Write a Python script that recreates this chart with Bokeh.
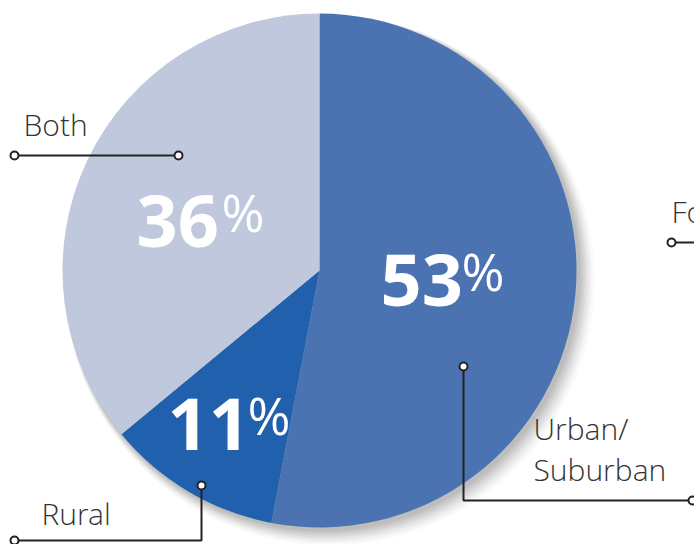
import math
from bokeh.plotting import figure
from bokeh.models import Range1d
from bokeh.core.properties import value
from bokeh.embed import file_html
from bokeh.resources import INLINE

# ---- data ----
categories = ["Urban/Suburban", "Rural", "Both"]
values = [53, 11, 36]
colors = ["#4b73b2", "#2160ad", "#bfc8dd"]

# ---- layout (reference pixel coordinates) ----
W, H = 694, 544
def Y(y):
    return 544 - y

cx, cy, R = 319, 270, 257

p = figure(width=W, height=H, output_backend="svg", toolbar_location=None,
           x_range=Range1d(0, W), y_range=Range1d(0, H),
           min_border=0)
p.axis.visible = False
p.grid.visible = False
p.outline_line_color = None
p.background_fill_color = "white"
p.border_fill_color = "white"

# soft shadow
for i, a in enumerate([0.05, 0.05, 0.04, 0.04, 0.03, 0.03, 0.02, 0.02]):
    p.circle(x=[cx + 3 + i], y=[Y(cy) - 3 - i], radius=R + 1 + i,
             fill_color="#000000", fill_alpha=a, line_color=None)

# wedges, clockwise from 12 o'clock
total = sum(values)
start = math.pi / 2
starts, ends = [], []
for v in values:
    end = start - v / total * 2 * math.pi
    starts.append(start)
    ends.append(end)
    start = end
p.wedge(x=cx, y=Y(cy), radius=R, start_angle=starts, end_angle=ends,
        direction="clock", fill_color=colors, line_color=None)

# percentage labels: (x of digits, baseline y, x of % sign)
pct_pos = [(380, 306, 461), (167, 450, 247), (136, 247, 221)]
for v, (px, py, qx) in zip(values, pct_pos):
    p.text(x=[px], y=[Y(py - 27)], text=[str(v)], text_font=value("Open Sans"),
           text_font_style="bold", text_font_size="72px", text_color="white",
           text_baseline="alphabetic", text_align="left")
    p.text(x=[qx], y=[Y(py - 12 - 24)], text=["%"], text_font=value("Open Sans"),
           text_font_size="52px", text_color="white",
           text_baseline="alphabetic", text_align="left")

# callout labels
lab_font = value("Open Sans Light")
lab_col = "#333333"
d = 13
p.text(x=[533], y=[Y(441 - d)], text=["Urban/"], text_font=lab_font, text_font_size="30px",
       text_color=lab_col, text_baseline="alphabetic")
p.text(x=[533], y=[Y(482 - d)], text=["Suburban"], text_font=lab_font, text_font_size="30px",
       text_color=lab_col, text_baseline="alphabetic")
p.text(x=[41], y=[Y(526 - d)], text=["Rural"], text_font=lab_font, text_font_size="30px",
       text_color=lab_col, text_baseline="alphabetic")
p.text(x=[23], y=[Y(137 - d)], text=["Both"], text_font=lab_font, text_font_size="30px",
       text_color=lab_col, text_baseline="alphabetic")
p.text(x=[671], y=[Y(224 - d)], text=["Fo"], text_font=lab_font, text_font_size="30px",
       text_color=lab_col, text_baseline="alphabetic")

# leader lines
line_col = "#222222"
leaders = [
    ([463, 463, 692], [366, 500, 500]),
    ([201, 201, 14], [485, 540, 540]),
    ([178, 14], [155, 155]),
    ([671, 700], [242, 242]),
]
for xs, ys in leaders:
    p.line(x=xs, y=[Y(v) for v in ys], line_color=line_col, line_width=2)
ends_x = [463, 692, 201, 14, 178, 14, 671]
ends_y = [366, 500, 485, 540, 155, 155, 242]
p.scatter(x=ends_x, y=[Y(v) for v in ends_y], marker="circle", size=8,
          fill_color="white", line_color=line_col, line_width=2)

open("out.html", "w").write(file_html(p, INLINE))
